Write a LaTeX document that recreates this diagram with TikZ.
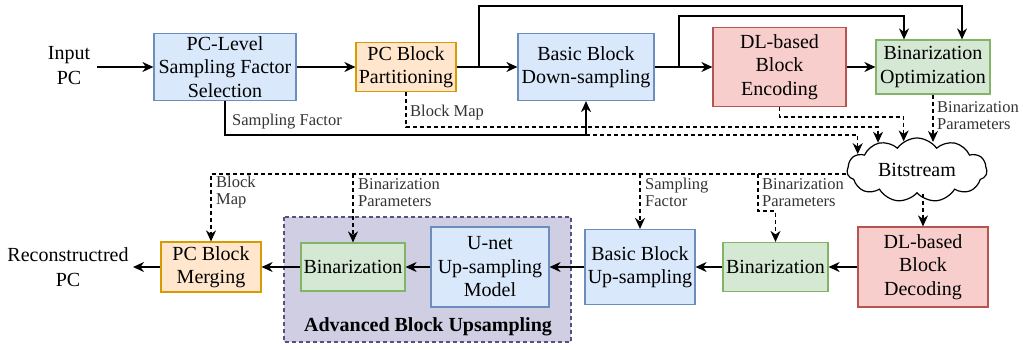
\documentclass[tikz,border=0pt]{standalone}
\usepackage{fontspec}
\setmainfont{Liberation Serif}
\usetikzlibrary{arrows.meta,shapes.symbols,calc}
\definecolor{blueF}{HTML}{DAE8FC}\definecolor{blueD}{HTML}{6C8EBF}
\definecolor{orngF}{HTML}{FFE6CC}\definecolor{orngD}{HTML}{D79B00}
\definecolor{redF}{HTML}{F8CECC}\definecolor{redD}{HTML}{B85450}
\definecolor{grnF}{HTML}{D5E8D4}\definecolor{grnD}{HTML}{82B366}
\definecolor{purF}{HTML}{D0CEE2}\definecolor{purD}{HTML}{56517E}

\begin{document}
\begin{tikzpicture}[x=1pt,y=-1pt,
  box/.style={draw,line width=1.2pt,align=center,inner sep=0pt,font=\fontsize{20}{23.5}\selectfont},
  bluebox/.style={box,fill=blueF,draw=blueD},
  orngbox/.style={box,fill=orngF,draw=orngD},
  redbox/.style={box,fill=redF,draw=redD},
  grnbox/.style={box,fill=grnF,draw=grnD},
  txt/.style={align=center,inner sep=0pt,font=\fontsize{20}{25}\selectfont},
  lbl/.style={align=left,inner sep=0pt,text=black!80,font=\fontsize{16.5}{17}\selectfont},
  arr/.style={line width=1.3pt,-{Stealth[length=11pt,width=10pt,inset=3.5pt]}},
  darr/.style={arr,dash pattern=on 4pt off 3pt}]
  \useasboundingbox (0,0) rectangle (1023,349);

  \draw [fill=purF,draw=purD,line width=1.2pt,dash pattern=on 4pt off 3pt] (284,217) rectangle (571,342);
  \node [font=\fontsize{20}{22}\selectfont\bfseries,inner sep=0pt] (advl) at (428,327) {Advanced Block Upsampling};

  \node [txt] (inpc) at (69,66) {Input\\PC};
  \node [bluebox,minimum width=142,minimum height=67] (sfs) at (225,67) {PC-Level\\Sampling Factor\\Selection};
  \node [orngbox,minimum width=100,minimum height=49] (part) at (406,67) {PC Block\\Partitioning};
  \node [bluebox,minimum width=136,minimum height=67] (down) at (586,67) {Basic Block\\Down-sampling};
  \node [redbox,minimum width=133,minimum height=79] (enc) at (779.5,67) {DL-based\\Block\\Encoding};
  \node [grnbox,minimum width=114,minimum height=54] (bopt) at (933,67) {Binarization\\Optimization};

  \node [cloud,draw,fill=white,line width=1.2pt,cloud puffs=11,cloud puff arc=110,aspect=2.3,
         minimum width=140,minimum height=64,inner sep=0pt,font=\fontsize{20}{22}\selectfont] (bs) at (917,170) {Bitstream};

  \node [redbox,minimum width=130,minimum height=80] (dec) at (923,267) {DL-based\\Block\\Decoding};
  \node [grnbox,minimum width=105,minimum height=49] (binr) at (775.5,267) {Binarization};
  \node [bluebox,minimum width=110,minimum height=75] (up) at (640,267) {Basic Block\\Up-sampling};
  \node [bluebox,minimum width=118,minimum height=80] (unet) at (490,267) {U-net\\Up-sampling\\Model};
  \node [grnbox,minimum width=104,minimum height=48] (binl) at (353,267) {Binarization};
  \node [orngbox,minimum width=100,minimum height=50] (merge) at (211,267) {PC Block\\Merging};
  \node [txt] (recpc) at (68,267) {Reconstructred\\PC};

  \coordinate (inend) at (97,67);
  \coordinate (j1) at (479,67);
  \coordinate (j2) at (679,67);
  \coordinate (j3) at (down.south |- 0,135);
  \coordinate (b0) at ([yshift=-4pt]bs.west);
  \coordinate (recend) at (133,267);

  \draw [arr] (inend) -- (sfs);
  \draw [arr] (sfs) -- (part);
  \draw [arr] (part) -- (down);
  \draw [arr] (down) -- (enc);
  \draw [arr] (enc) -- (bopt);
  \draw [arr] (j1) -- (479,6) -| ([xshift=29pt]bopt.north);
  \draw [arr] (j2) -- (679,16) -| ([xshift=-29pt]bopt.north);

  \draw [line width=1.3pt] (sfs.south) |- (j3);
  \draw [arr] (j3) -- (down.south);
  \draw [darr] (j3) -| (bs.165);
  \draw [darr] (part.south) -- ++(0,35) -| (bs.145);
  \draw [darr] (enc.south) -- ++(0,10) -| (bs.115);
  \draw [darr] (bopt.south) -- (bopt.south |- bs.63);

  \node [lbl,anchor=west] (sfl) at (232,122) {Sampling Factor};
  \node [lbl,anchor=west] (bml) at (410,113) {Block Map};
  \node [lbl,anchor=west] (bpl) at (937,116) {Binarization\\Parameters};

  \draw [darr] (dec.north |- bs.south) -- (dec.north);
  \draw [arr] (dec) -- (binr);
  \draw [arr] (binr) -- (up);
  \draw [arr] (up) -- (unet);
  \draw [arr] (unet) -- (binl);
  \draw [arr] (binl) -- (merge);
  \draw [arr] (merge) -- (recend);

  \draw [darr] (b0) -| (merge.north);
  \draw [darr] (b0 -| binl.north) -- (binl.north);
  \draw [darr] (b0 -| up.north) -- (up.north);
  \draw [darr] (b0 -| 758,0) -- ++(0,37) -| (binr.north);

  \node [lbl,anchor=west] (bml2) at (216,192) {Block\\Map};
  \node [lbl,anchor=west] (bpl2) at (358,193) {Binarization\\Parameters};
  \node [lbl,anchor=west] (sfl2) at (645,192) {Sampling\\Factor};
  \node [lbl,anchor=west] (bpl3) at (762,193) {Binarization\\Parameters};

\end{tikzpicture}
\end{document}
